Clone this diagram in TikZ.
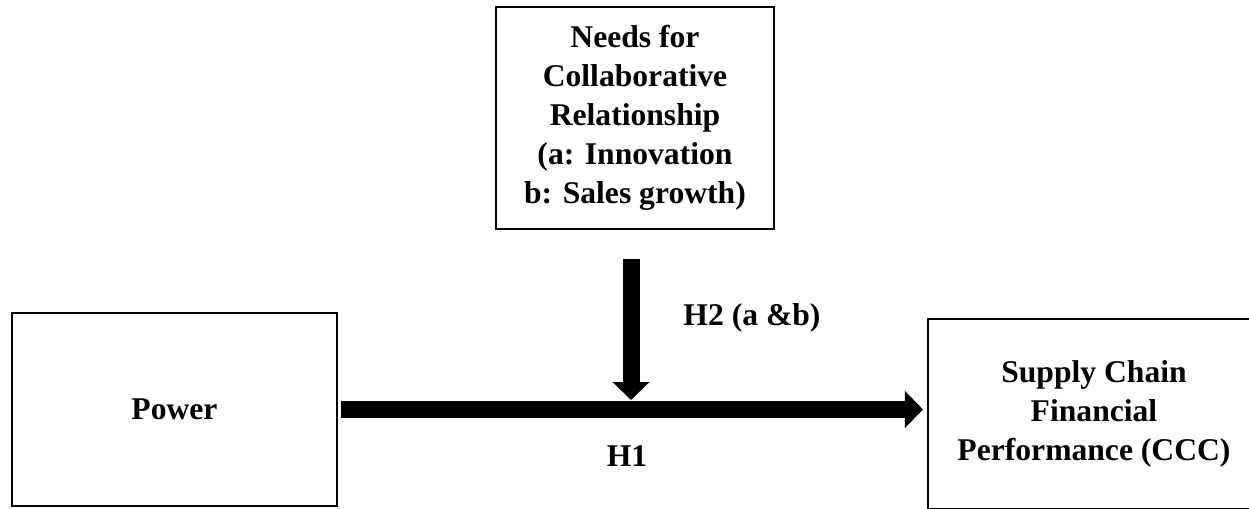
\documentclass[tikz,border=0pt]{standalone}
\usepackage{fontspec}
\setmainfont{Liberation Serif}
\usetikzlibrary{arrows.meta, positioning}

\begin{document}
\begin{tikzpicture}[x=0.02cm, y=-0.02cm,
    box/.style={draw, line width=1.2pt, align=center, inner sep=0pt,
      font=\bfseries\fontsize{18}{22.2}\selectfont},
    lbl/.style={font=\bfseries\fontsize{18}{22.2}\selectfont},
    bigarrow/.style={line width=0.34cm, -{Triangle[length=0.36cm, width=0.72cm]}}]
    \useasboundingbox (0,0) rectangle (1249,508);
    \clip (0,0) rectangle (1249,508);

    \node[box, minimum width=5.56cm, minimum height=4.44cm] (needs) at (635,118)
      {Needs for\\Collaborative\\Relationship\\(a: Innovation\\b: Sales growth)};
    \node[box, minimum width=6.5cm, minimum height=3.86cm] (power) at (174.5,409.5) {Power};
    \node[box, minimum width=6.64cm, minimum height=3.8cm] (sccf) at (1094,414)
      {Supply Chain\\Financial\\Performance (CCC)};

    \coordinate (meet) at (631,400);

    % main path H1
    \draw[bigarrow, shorten <=0.06cm, shorten >=0.08cm] (power.east) -- (power.east -| sccf.west);
    % moderator H2
    \draw[bigarrow, shorten <=0.58cm] (meet |- needs.south) -- (meet);

    \node[lbl] (h2) at (752,318) {H2 (a \&b)};
    \node[lbl] (h1) at (627,456) {H1};
  \end{tikzpicture}
\end{document}
